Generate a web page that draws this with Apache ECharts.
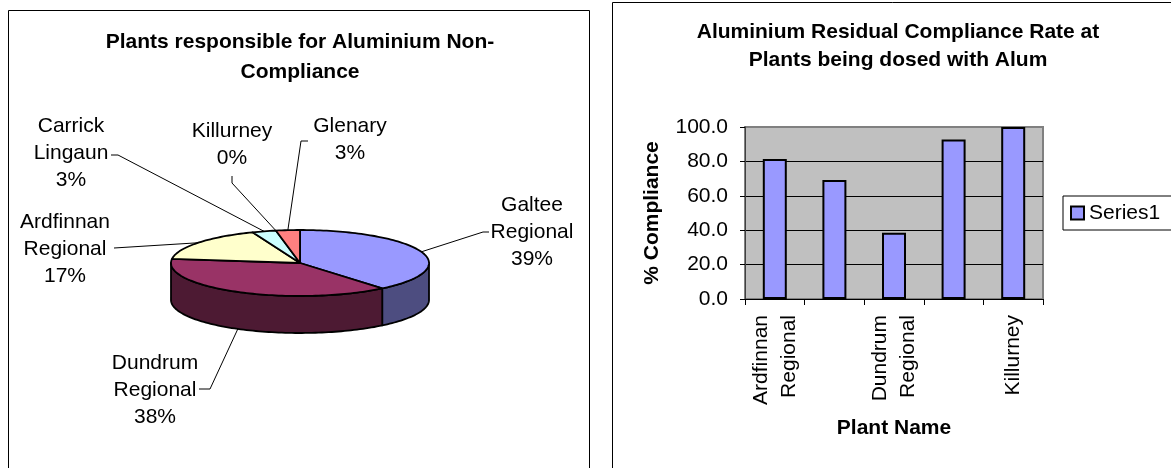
<!DOCTYPE html>
<html><head><meta charset="utf-8">
<script src="https://cdn.jsdelivr.net/npm/echarts@6.0.0/dist/echarts.min.js"></script>
<style>html,body{margin:0;padding:0;background:#fff}#c{width:1171px;height:468px}</style>
</head><body><div id="c"></div>
<script>
// ---------- Pie data (share of non-compliance, %) ----------
const pieNames = ['Galtee Regional', 'Dundrum Regional', 'Ardfinnan Regional', 'Carrick Lingaun', 'Killurney', 'Glenary'];
const pieValues = [39, 38, 17, 3, 0, 3];

// ---------- Bar data (% compliance) ----------
const barCategories = ['Ardfinnan Regional', 'Carrick Lingaun', 'Dundrum Regional', 'Glenary', 'Killurney'];
const barValues = [81.4, 69.2, 38.5, 92.8, 100.0];
const barSeriesName = 'Series1';

// ---------- Styles / layout (not data) ----------
const FONT = "'Liberation Sans', Arial, Helvetica, sans-serif";
const topColors = ['#9999FF', '#993366', '#FFFFCC', '#CCFFFF', '#660066', '#FF8080'];
const sideColors = ['#4D4D80', '#4D1A33', '#80806A', '#668080', '#330033', '#804040'];
const pieGeom = { cx: 300, cy: 263, rx: 129, ry: 33, depth: 37 };
const pieLabelLayout = [
  { x: 532, y: 232, line: [[489, 232], [483, 232]] },
  { x: 155, y: 390, line: [[199, 389], [210, 389]] },
  { x: 65, y: 249, line: [[114, 248]] },
  { x: 71, y: 153, line: [[111, 155], [118, 155]] },
  { x: 232, y: 145, line: [[232, 176], [232, 183]] },
  { x: 350, y: 140, line: [[308, 141], [301, 141]] }
];

const total = pieValues.reduce((a, b) => a + b, 0);
const starts = [];
(function () { let acc = 0; pieValues.forEach(v => { starts.push(acc / total * 360); acc += v; }); })();

function pt(deg, dy) {
  const r = deg * Math.PI / 180;
  return [pieGeom.cx + pieGeom.rx * Math.sin(r), pieGeom.cy - pieGeom.ry * Math.cos(r) + (dy || 0)];
}
function arc(a, b, dy) {
  const pts = [];
  const n = Math.max(2, Math.ceil(Math.abs(b - a) / 1.5));
  for (let k = 0; k <= n; k++) pts.push(pt(a + (b - a) * k / n, dy));
  return pts;
}

function renderSide(params, api) {
  const i = params.dataIndex;
  const v = api.value(0);
  const a = starts[i], b = a + v / total * 360;
  const s = Math.max(a, 90), e = Math.min(b, 270);
  if (!(v > 0) || e <= s) return { type: 'group', children: [] };
  const points = arc(s, e, 0).concat(arc(e, s, pieGeom.depth));
  return {
    type: 'polygon', shape: { points: points },
    style: { fill: sideColors[i], stroke: '#000', lineWidth: 1.8, lineJoin: 'round' }
  };
}

function renderTop(params, api) {
  const i = params.dataIndex;
  const v = api.value(0);
  const a = starts[i], b = a + v / total * 360;
  const children = [];
  if (v > 0) {
    children.push({
      type: 'polygon', shape: { points: [[pieGeom.cx, pieGeom.cy]].concat(arc(a, b, 0)) },
      style: { fill: topColors[i], stroke: '#000', lineWidth: 1.8, lineJoin: 'round' }
    });
  }
  const m = (a + b) / 2;
  const front = Math.cos(m * Math.PI / 180) < 0;
  const anchor = pt(m, front ? pieGeom.depth : 0);
  const L = pieLabelLayout[i];
  children.push({
    type: 'polyline', shape: { points: L.line.concat([anchor]) },
    style: { stroke: '#000', lineWidth: 1, fill: null }, z2: 5
  });
  const pct = Math.round(v / total * 100) + '%';
  children.push({
    type: 'text', x: L.x, y: L.y, z2: 6,
    style: {
      text: pieNames[i].split(' ').join('\n') + '\n' + pct,
      fill: '#000', fontSize: 21, fontFamily: FONT, lineHeight: 27,
      align: 'center', verticalAlign: 'middle'
    }
  });
  return { type: 'group', children: children };
}

const chart = echarts.init(document.getElementById('c'), null, { renderer: 'canvas' });
chart.setOption({
  animation: false,
  backgroundColor: '#ffffff',
  textStyle: { fontFamily: FONT },
  title: [
    {
      text: 'Plants responsible for Aluminium Non-\nCompliance', left: 300, top: 27, textAlign: 'center', padding: 0,
      textStyle: { fontFamily: FONT, fontWeight: 'bold', fontSize: 21, lineHeight: 30, color: '#000' }
    },
    {
      text: 'Aluminium Residual Compliance Rate at\nPlants being dosed with Alum', left: 898, top: 18, textAlign: 'center', padding: 0,
      textStyle: { fontFamily: FONT, fontWeight: 'bold', fontSize: 21, lineHeight: 28, color: '#000' }
    }
  ],
  graphic: [
    { type: 'rect', shape: { x: 8.5, y: 10.5, width: 581, height: 500 }, style: { fill: 'none', stroke: '#000', lineWidth: 1 }, silent: true },
    { type: 'rect', shape: { x: 612.5, y: 2.5, width: 600, height: 500 }, style: { fill: 'none', stroke: '#000', lineWidth: 1 }, silent: true }
  ],
  legend: {
    data: [barSeriesName], left: 1063, top: 196, orient: 'vertical',
    icon: 'rect', itemWidth: 13, itemHeight: 13, itemGap: 0,
    padding: [6, 80, 6, 7], borderColor: '#000', borderWidth: 1, borderRadius: 0,
    textStyle: { fontSize: 21, fontFamily: FONT, color: '#000', lineHeight: 22 },
    itemStyle: { borderColor: '#000', borderWidth: 2 }
  },
  grid: {
    left: 745, top: 127, width: 298, height: 172, show: true,
    backgroundColor: '#C0C0C0', borderColor: '#808080', borderWidth: 2,
    containLabel: false, outerBoundsMode: 'none'
  },
  xAxis: {
    type: 'category', data: barCategories,
    axisLine: { lineStyle: { color: '#000', width: 1 } },
    axisTick: { show: true, interval: 0, length: 6, lineStyle: { color: '#000' } },
    axisLabel: {
      interval: 1, rotate: 90, margin: 16, fontSize: 21, fontFamily: FONT, color: '#000', lineHeight: 28,
      formatter: v => v.split(' ').join('\n')
    },
    name: 'Plant Name', nameLocation: 'middle', nameGap: 119,
    nameTextStyle: { fontWeight: 'bold', fontSize: 21, fontFamily: FONT, color: '#000' }
  },
  yAxis: {
    type: 'value', min: 0, max: 100, interval: 20,
    axisLine: { show: true, lineStyle: { color: '#404040', width: 1 } },
    axisTick: { show: true, length: 5, lineStyle: { color: '#000' } },
    axisLabel: { margin: 17, fontSize: 21, fontFamily: FONT, color: '#000', formatter: v => v.toFixed(1) },
    splitLine: { show: true, showMaxLine: false, showMinLine: false, lineStyle: { color: '#000', width: 1 } },
    name: '% Compliance', nameLocation: 'middle', nameGap: 82, nameRotate: 90,
    nameTextStyle: { fontWeight: 'bold', fontSize: 21, fontFamily: FONT, color: '#000' }
  },
  series: [
    { type: 'custom', name: 'pieSides', coordinateSystem: 'none', data: pieValues, renderItem: renderSide, silent: true, z: 1 },
    { type: 'custom', name: 'pieTops', coordinateSystem: 'none', data: pieValues, renderItem: renderTop, silent: true, z: 2 },
    {
      type: 'bar', name: barSeriesName, data: barValues, barWidth: 24,
      itemStyle: { color: '#9999FF', borderColor: '#000', borderWidth: 2 }
    }
  ]
});
</script>
</body></html>
